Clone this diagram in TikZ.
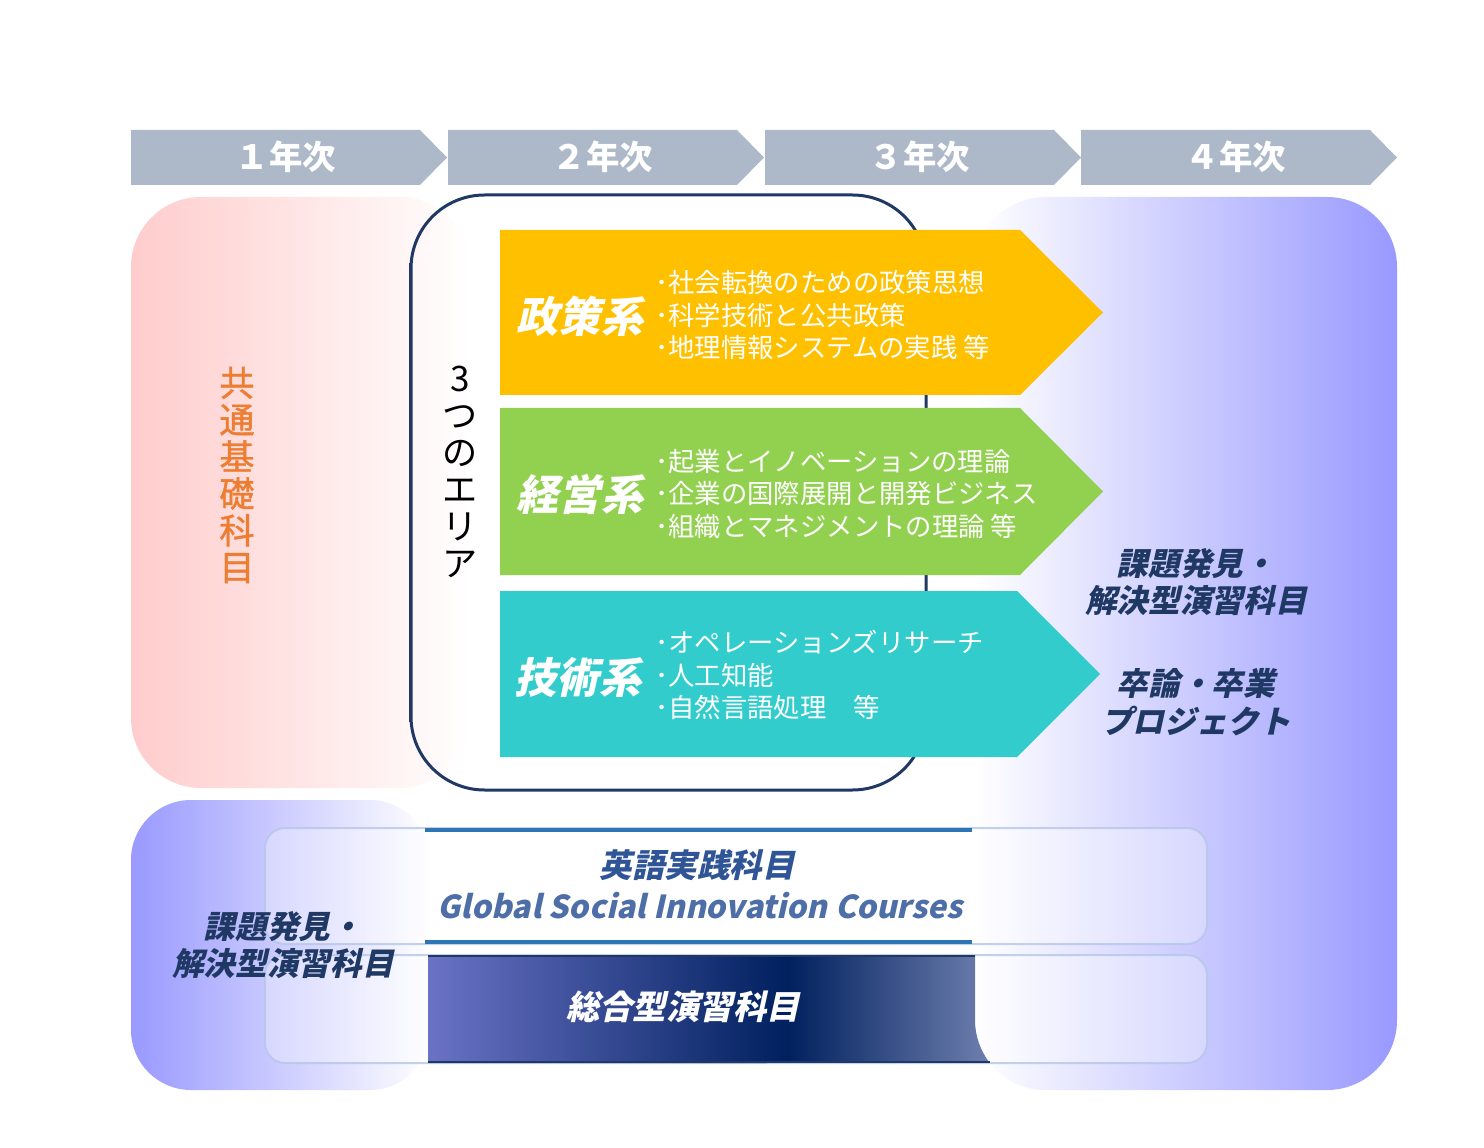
\documentclass[tikz,border=0pt]{standalone}
\usepackage{fontspec}
\setmainfont{Noto Sans CJK JP}
\newfontfamily\slfont[FakeSlant=0.22]{Noto Sans CJK JP}
\newfontfamily\medfont[FakeBold=1.2]{Noto Sans CJK JP}
\usetikzlibrary{positioning}
\definecolor{yeargray}   {HTML}{ADB8C9}
\definecolor{basicpink}  {HTML}{FFCCCC}
\definecolor{basicorange}{HTML}{ED7D31}
\definecolor{lavender}   {HTML}{9999FF}
\definecolor{areanavy}   {HTML}{1F3864}
\definecolor{arealight}  {HTML}{B0BFDD}
\definecolor{policy}     {HTML}{FFC000}
\definecolor{business}   {HTML}{92D050}
\definecolor{tech}       {HTML}{33CCCC}
\definecolor{titlenavy}  {HTML}{1F3864}
\definecolor{framecol}   {HTML}{B4C7E7}
\definecolor{bandblue}   {HTML}{2E75B6}
\definecolor{englishblue}{HTML}{2F5597}
\definecolor{bandleft}   {HTML}{6A72C6}
\definecolor{bandnavy}   {HTML}{00205E}
\definecolor{bandright}  {HTML}{6E7FAE}
\pgfdeclarehorizontalshading{navyband}{100bp}{color(0bp)=(bandleft); color(25bp)=(bandleft); color(57bp)=(bandnavy); color(75bp)=(bandright); color(100bp)=(bandright)}

\begin{document}
\begin{tikzpicture}[x=0.02cm, y=-0.02cm,
    yearbar/.style={fill=yeargray},
    yeartext/.style={text=white, font=\fontsize{19}{22}\selectfont\bfseries},
    areaname/.style={text=white, font=\slfont\fontsize{24}{28}\selectfont\bfseries},
    arealist/.style={text=white, anchor=west, align=left, inner sep=0pt,
                     font=\fontsize{15}{18.7}\selectfont},
    vert/.style={align=center, inner sep=0pt, font=\fontsize{20}{21}\selectfont},
    navytext/.style={text=titlenavy, align=center,
                     font=\slfont\fontsize{18}{21.5}\selectfont\bfseries},
    courseframe/.style={draw=framecol, line width=0.04cm, rounded corners=0.4cm,
                        fill=white, fill opacity=0.3, draw opacity=0.8},
    bandline/.style={draw=bandblue, line width=0.08cm},
  ]
  \useasboundingbox (0,0) rectangle (1484,1148);

  % Year chevrons
  \foreach \i/\x in {１/131, ２/448, ３/765, ４/1081} {
    \fill[yearbar] (\x,130) -- (\x+289,130) -- (\x+316,157.5)
      -- (\x+289,185) -- (\x,185) -- cycle;
    \node[yeartext] (yr\x) at (\x+155,157) {\i 年次};
  }

  % Background blocks
  \shade[left color=basicpink, right color=white, rounded corners=1.4cm]
    (131,197) rectangle (470,788);
  \shade[left color=white, right color=lavender, rounded corners=1.4cm]
    (975,197) rectangle (1397,1090);
  \shade[left color=lavender, right color=white, rounded corners=1.2cm]
    (131,800) rectangle (430,1090);

  % Frame of the three areas
  \shade[top color=areanavy, middle color=arealight, bottom color=areanavy,
         even odd rule]
    {[rounded corners=1.5cm] (409.5,193.5) rectangle (927.5,791.5)}
    {[rounded corners=1.44cm] (412.5,196.5) rectangle (924.5,788.5)};

  % Area arrows
  \foreach \col/\yt/\yb/\tip in {policy/230/395/1103, business/408/575/1103,
                                 tech/591/757/1100} {
    \fill[\col] (500,\yt) -- (\tip-83,\yt) -- (\tip,{(\yt+\yb)/2})
      -- (\tip-83,\yb) -- (500,\yb) -- cycle;
  }

  \node[areaname] (seisaku) at (580,316) {政策系};
  \node[arealist] (seisakulist) at (655,315)
    {･社会転換のための政策思想\\･科学技術と公共政策\\･地理情報システムの実践 等};
  \node[areaname] (keiei) at (580,494) {経営系};
  \node[arealist] (keieilist) at (655,494)
    {･起業とイノベーションの理論\\･企業の国際展開と開発ビジネス\\･組織とマネジメントの理論 等};
  \node[areaname] (gijutsu) at (578,677) {技術系};
  \node[arealist] (gijutsulist) at (655,675)
    {･オペレーションズリサーチ\\･人工知能\\･自然言語処理　等};

  % Vertical captions
  \node[vert, text=basicorange, font=\medfont\fontsize{20}{21}\selectfont]
    (kiso) at (237,475) {共\\通\\基\\礎\\科\\目};
  \node[vert, text=black] (area) at (460,472) {3\\つ\\の\\エ\\リ\\ア};

  % Right column
  \node[navytext] (kadai) at (1196,582) {課題発見・\\解決型演習科目};
  \node[navytext] (sotsuron) at (1196,702) {卒論・卒業\\プロジェクト};

  % Course bands
  \draw[courseframe] (265,828) rectangle (1207,944);
  \draw[courseframe] (265,955) rectangle (1207,1063);
  \shade[shading=navyband] (428,955) -- (975,955) -- (975,1020)
    arc[start angle=180, end angle=217.9, radius=1.4cm] -- (428,1063) -- cycle;
  \draw[areanavy, line width=0.04cm] (428,956) -- (975,956);
  \draw[areanavy, line width=0.04cm] (428,1062) -- (990,1062);
  \draw[bandline] (425,830) -- (972,830);
  \draw[bandline] (425,942) -- (972,942);

  \node[text=englishblue, font=\slfont\fontsize{18.5}{22}\selectfont\bfseries]
    (eigo) at (697,865) {英語実践科目};
  \node[text=englishblue!85, font=\slfont\fontsize{18}{22}\selectfont\bfseries]
    (gsic) at (700,906) {Global Social Innovation Courses};
  \node[text=white, font=\slfont\fontsize{19}{22}\selectfont\bfseries]
    (sogo) at (683,1007) {総合型演習科目};
  \node[navytext] (kadaib) at (283,945) {課題発見・\\解決型演習科目};
\end{tikzpicture}
\end{document}
